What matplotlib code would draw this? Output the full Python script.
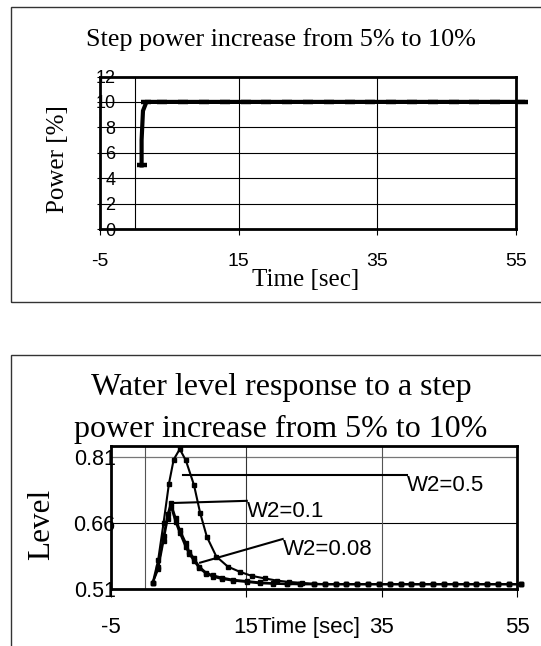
import matplotlib
matplotlib.use('Agg')
import matplotlib.pyplot as plt
from matplotlib import font_manager
from matplotlib.patches import Rectangle

plt.rcParams['axes.unicode_minus'] = False

# fonts
names = set(f.name for f in font_manager.fontManager.ttflist)
serif = 'Liberation Serif'
sans = 'Liberation Sans'
narrow = 'Liberation Sans Narrow' if 'Liberation Sans Narrow' in names else 'Liberation Sans'

# ---- data: top chart (power step) ----
power_t = [1.0, 1.0, 1.2, 1.7, 4.0, 7.0, 10.0, 13.0, 16.0, 19.0, 22.0, 25.0, 28.0, 31.0,
           34.0, 37.0, 40.0, 43.0, 46.0, 49.0, 52.0, 56.0]
power_v = [5.0, 7.0, 9.3, 10.0, 10.0, 10.0, 10.0, 10.0, 10.0, 10.0, 10.0, 10.0, 10.0, 10.0,
           10.0, 10.0, 10.0, 10.0, 10.0, 10.0, 10.0, 10.0]
power_xticks = [-5, 15, 35, 55]
power_yticks = [0, 2, 4, 6, 8, 10, 12]

# ---- data: bottom chart (water level) ----
tail_t = [26.6, 28.2, 29.8, 31.4, 33.0, 34.6, 36.2, 37.8, 39.4, 41.0, 42.6, 44.2,
          45.8, 47.4, 49.0, 50.6, 52.2, 53.8, 55.6]
tail_v = [0.521, 0.521, 0.521, 0.521, 0.521, 0.521, 0.521, 0.521, 0.521, 0.521,
          0.521, 0.521, 0.521, 0.521, 0.521, 0.521, 0.521, 0.521, 0.521]

w05_t = [1.2, 2.0, 2.8, 3.6, 4.3, 5.2, 6.1, 7.3, 8.2, 9.2, 10.6, 12.3, 14.1, 15.8,
         17.8, 19.6, 21.4, 23.2, 25.0]
w05_v = [0.524, 0.575, 0.660, 0.750, 0.805, 0.829, 0.803, 0.747, 0.684, 0.629, 0.584,
         0.561, 0.549, 0.540, 0.534, 0.529, 0.526, 0.524, 0.522]

w01_t = [1.2, 2.0, 2.8, 3.4, 3.9, 4.6, 5.2, 6.1, 6.6, 7.3, 8.1, 9.1, 10.1, 11.4,
         13.1, 15.1, 17.0, 19.0, 21.0, 23.0, 25.0]
w01_v = [0.524, 0.560, 0.630, 0.680, 0.706, 0.671, 0.645, 0.615, 0.595, 0.580, 0.561,
         0.547, 0.541, 0.536, 0.531, 0.528, 0.525, 0.523, 0.522, 0.521, 0.521]

w008_t = [1.2, 2.0, 2.8, 3.4, 3.9, 4.6, 5.2, 6.1, 6.6, 7.3, 8.1, 9.1, 10.1, 11.4,
          13.1, 15.1, 17.0, 19.0, 21.0, 23.0, 25.0]
w008_v = [0.524, 0.555, 0.620, 0.670, 0.698, 0.662, 0.638, 0.605, 0.590, 0.574, 0.557,
          0.545, 0.538, 0.533, 0.529, 0.526, 0.523, 0.522, 0.521, 0.521, 0.521]

level_xticks = [-5, 15, 35, 55]
level_yticks = [0.51, 0.66, 0.81]
level_ylabels = ['0.51', '0.66', '0.81']

# label name, curve anchor (x, y), label anchor (x, y)
callouts = [
    ('W2=0.5', (5.7, 0.769), (38.7, 0.769)),
    ('W2=0.1', (4.0, 0.706), (15.1, 0.711)),
    ('W2=0.08', (8.2, 0.570), (20.4, 0.624)),
]

W, H = 541, 646
fig = plt.figure(figsize=(W / 100, H / 100), dpi=100)
fig.patch.set_facecolor('white')


def fx(px):
    return px / W


def fy(py):
    return 1 - py / H


# outer frames (right/bottom sides run off the picture)
fig.patches.append(Rectangle((fx(10.5), fy(301.7)), 1.2, (301.7 - 7.3) / H,
                             transform=fig.transFigure, fill=False, lw=1.0, ec='#333333'))
fig.patches.append(Rectangle((fx(10.5), -0.2), 1.2, fy(355) + 0.2,
                             transform=fig.transFigure, fill=False, lw=1.0, ec='#333333'))

# ---------------- top chart ----------------
ax1 = fig.add_axes([fx(100), fy(229), (516 - 100) / W, (229 - 76.5) / H])
flat = [0] + list(range(3, len(power_t)))
ax1.plot(power_t, power_v, color='black', lw=3.0, marker='_', ms=7, mew=3.2,
         markevery=flat, solid_joinstyle='miter', clip_on=False, zorder=5)
ax1.set_xlim(-5, 55)
ax1.set_ylim(0, 12)
ax1.set_xticks(power_xticks)
ax1.set_yticks(power_yticks)
for y in power_yticks[1:-1]:
    ax1.axhline(y, color='black', lw=0.8, zorder=1)
for x in [0, 15, 35]:
    ax1.axvline(x, color='black', lw=0.8, zorder=1)
for s in ax1.spines.values():
    s.set_linewidth(2.0)
ax1.tick_params(axis='x', direction='out', length=4.5, width=0.8, pad=12.5)
ax1.tick_params(axis='y', direction='out', length=2.5, width=0.8, pad=-13.5)
for lab in ax1.get_xticklabels():
    lab.set_fontfamily(narrow)
    lab.set_fontsize(14)
for lab in ax1.get_yticklabels():
    lab.set_fontfamily(narrow)
    lab.set_fontsize(13)
    lab.set_horizontalalignment('right')
ax1.set_xlabel('Time [sec]', fontfamily=serif, fontsize=18)
ax1.xaxis.label.set_verticalalignment('center')
ax1.xaxis.set_label_coords(0.495, -0.334)
ax1.set_ylabel('Power [%]', fontfamily=serif, fontsize=18)
ax1.yaxis.label.set_verticalalignment('center')
ax1.yaxis.set_label_coords(-0.101, 0.46)
fig.text(fx(281), fy(40), 'Step power increase from 5% to 10%', ha='center', va='center',
         fontfamily=serif, fontsize=18.8)

# ---------------- bottom chart ----------------
ax2 = fig.add_axes([fx(110.7), fy(589), (517 - 110.7) / W, (589 - 446) / H])
for t, v in [(w05_t + tail_t, w05_v + tail_v), (w01_t + tail_t, w01_v + tail_v),
             (w008_t + tail_t, w008_v + tail_v)]:
    ax2.plot(t, v, color='black', lw=1.5, marker='s', ms=3.3, clip_on=False, zorder=5)
ax2.set_xlim(-5, 55)
ax2.set_ylim(0.51, 0.836)
ax2.set_xticks(level_xticks)
ax2.set_yticks(level_yticks, level_ylabels)
ax2.axhline(0.66, color='black', lw=0.8, zorder=1)
ax2.axhline(0.81, color='#777777', lw=0.9, zorder=1)
ax2.axvline(0, color='#555555', lw=0.8, zorder=1)
ax2.axvline(15, color='#333333', lw=0.8, zorder=1)
ax2.axvline(35, color='#555555', lw=0.8, zorder=1)
for s in ax2.spines.values():
    s.set_linewidth(2.0)
ax2.tick_params(axis='x', direction='out', length=5.5, width=0.8, pad=15)
ax2.tick_params(axis='y', direction='out', length=0, pad=-3.5)
for lab in ax2.get_xticklabels():
    lab.set_fontfamily(sans)
    lab.set_fontsize(16)
for lab in ax2.get_yticklabels():
    lab.set_fontfamily(narrow)
    lab.set_fontsize(15.5)
ax2.set_xlabel('Time [sec]', fontfamily=sans, fontsize=16)
ax2.xaxis.label.set_verticalalignment('center')
ax2.xaxis.set_label_coords(0.489, -0.266)
ax2.set_ylabel('Level', fontfamily=serif, fontsize=22.5)
ax2.yaxis.label.set_verticalalignment('center')
ax2.yaxis.set_label_coords(-0.169, 0.455)

for name, (cx, cy), (lx, ly) in callouts:
    ax2.plot([cx, lx], [cy, ly], color='black', lw=1.5, zorder=6)
    ax2.text(lx, ly, name, ha='left', va='top', fontfamily=sans, fontsize=16, zorder=7)

fig.text(fx(281), fy(387), 'Water level response to a step', ha='center', va='center',
         fontfamily=serif, fontsize=23)
fig.text(fx(281), fy(429), 'power increase from 5% to 10%', ha='center', va='center',
         fontfamily=serif, fontsize=23)

fig.savefig('out.png', dpi=100, facecolor='white')
